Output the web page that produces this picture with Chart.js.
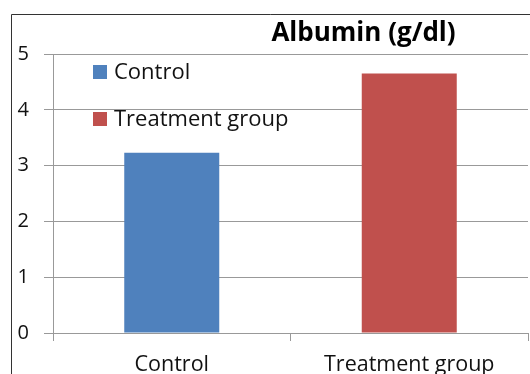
<!DOCTYPE html>
<html>
<head>
<meta charset="utf-8">
<script src="https://cdn.jsdelivr.net/npm/chart.js@4"></script>
<style>
html,body{margin:0;padding:0;width:530px;height:374px;overflow:hidden;background:#fff;}
canvas{display:block;}
</style>
</head>
<body>
<canvas id="c" width="530" height="392"></canvas>
<script>
const categories = ["Control", "Treatment group"];
const values = [3.23, 4.65];
const yTicks = [0, 1, 2, 3, 4, 5];
const chartTitle = "Albumin (g/dl)";
const barColors = ["#4F81BD", "#C0504D"];

const FONT = "'Open Sans', sans-serif";

const decor = {
  id: 'decor',
  beforeDraw(chart) {
    const ctx = chart.ctx;
    ctx.save();
    ctx.fillStyle = '#fff';
    ctx.fillRect(0, 0, chart.width, chart.height);
    ctx.strokeStyle = '#333';
    ctx.lineWidth = 1;
    ctx.beginPath();
    ctx.moveTo(11.5, chart.height);
    ctx.lineTo(11.5, 14.5);
    ctx.lineTo(chart.width, 14.5);
    ctx.stroke();
    ctx.restore();
  },
  afterDraw(chart) {
    const ctx = chart.ctx;
    ctx.save();
    // title
    ctx.fillStyle = '#000';
    ctx.font = "bold 26px " + FONT;
    ctx.textAlign = 'center';
    ctx.textBaseline = 'alphabetic';
    ctx.fillText(chartTitle, 363.5, 41);
    // legend
    ctx.font = "22px " + FONT;
    ctx.textAlign = 'left';
    const ys = [79, 126];
    categories.forEach((c, i) => {
      ctx.fillStyle = barColors[i];
      ctx.fillRect(93, ys[i] - 14, 14, 14);
      ctx.fillStyle = '#111';
      ctx.fillText(c, 114, ys[i]);
    });
    ctx.restore();
  }
};

new Chart(document.getElementById('c'), {
  type: 'bar',
  data: {
    labels: categories,
    datasets: [{
      label: 'Albumin',
      data: values,
      backgroundColor: barColors,
      borderWidth: 0,
      barPercentage: 0.4,
      categoryPercentage: 1.0
    }]
  },
  options: {
    responsive: false,
    animation: false,
    devicePixelRatio: 1,
    layout: { padding: { left: 0, right: 2, top: 54, bottom: 0 } },
    plugins: {
      legend: { display: false },
      title: { display: false },
      tooltip: { enabled: false }
    },
    scales: {
      x: {
        afterFit(scale) { scale.height = 59; },
        grid: {
          offset: true,
          drawOnChartArea: false,
          drawTicks: true,
          tickLength: 8,
          color: '#999'
        },
        border: { display: true, color: '#999' },
        ticks: {
          font: { family: FONT, size: 21.5 },
          color: '#111',
          padding: 11,
          maxRotation: 0
        }
      },
      y: {
        min: 0,
        max: 5,
        afterFit(scale) { scale.width = 53; },
        afterBuildTicks(scale) { scale.ticks = yTicks.map(v => ({ value: v })); },
        grid: {
          color: '#999',
          tickLength: 9,
          drawTicks: true
        },
        border: { display: true, color: '#999' },
        ticks: {
          font: { family: FONT, size: 20 },
          color: '#111',
          padding: 15
        }
      }
    }
  },
  plugins: [decor]
});
</script>
</body>
</html>
